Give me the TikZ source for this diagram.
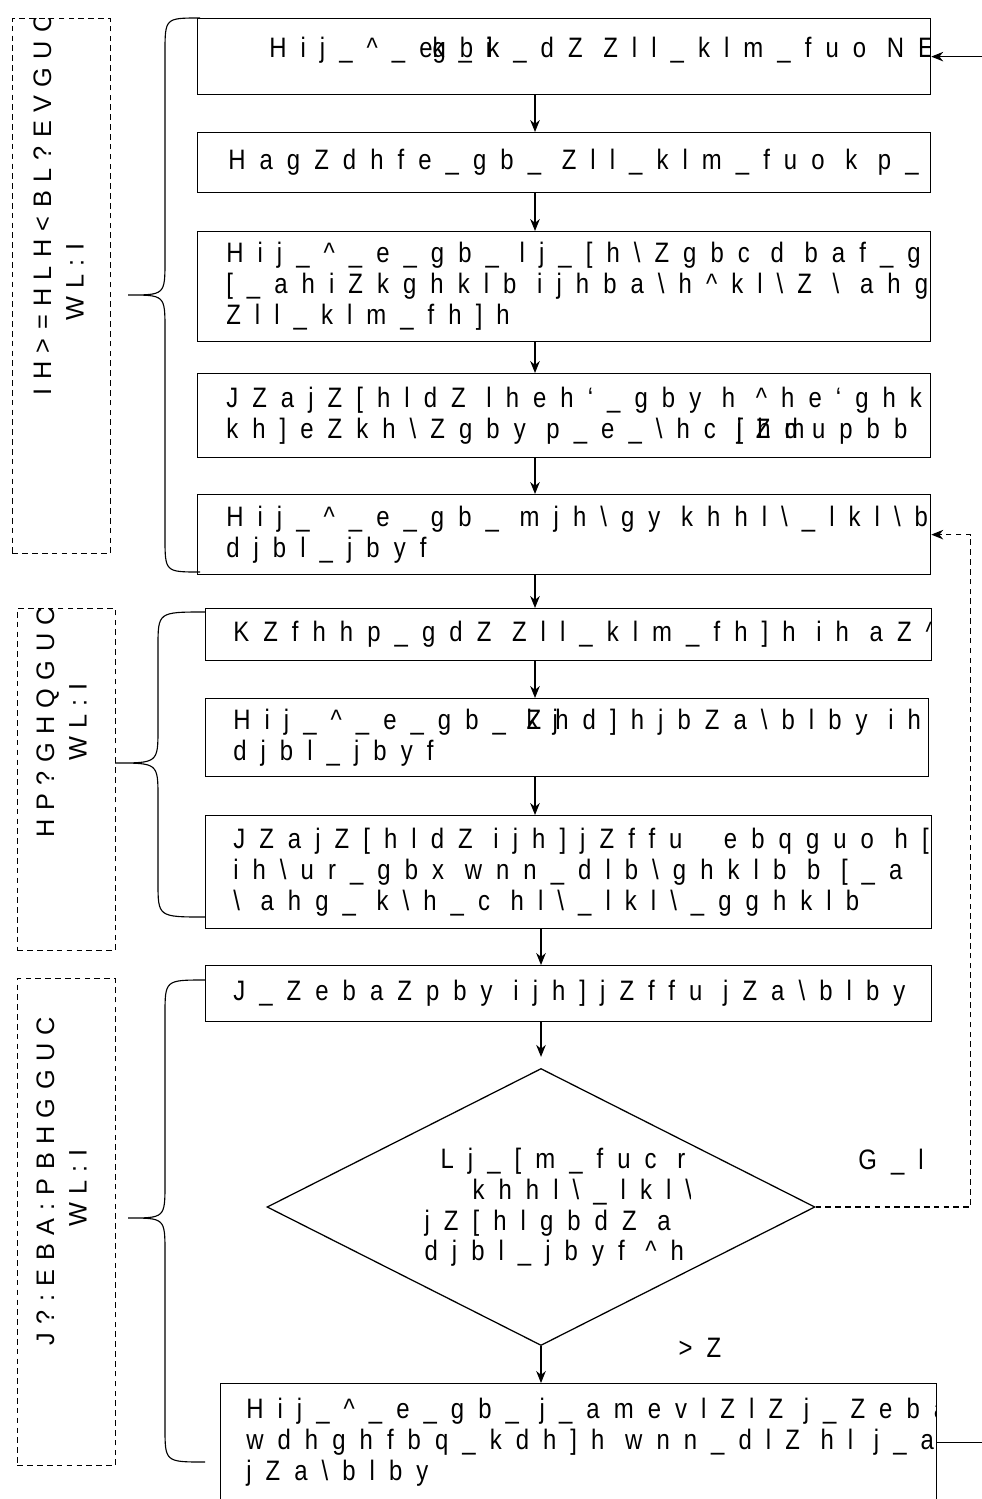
\documentclass[tikz,border=0pt]{standalone}
\usepackage{fontspec}
\usetikzlibrary{shapes.geometric,arrows.meta}
\newfontfamily\boxfont[LetterSpace=50,FakeStretch=0.85]{Liberation Sans}
\newfontfamily\grpfont[LetterSpace=33]{Liberation Sans}
\newcommand\crt{\textasciicircum}
\newcommand\bsl{\textbackslash}

\tikzset{
  wh/.style 2 args={minimum width=#1*0.025cm, minimum height=#2*0.025cm},
  stepbox/.style={draw, line width=0.9pt, rectangle, inner sep=0pt, anchor=north west},
  grpbox/.style={draw, dash pattern=on 4pt off 3pt, line width=0.7pt, rectangle, inner sep=0pt, anchor=north west},
  txt/.style={font=\boxfont\fontsize{20pt}{22pt}\selectfont, align=left, inner sep=0pt, minimum width=0pt, minimum height=0pt, draw=none},
  gtxt/.style={font=\grpfont\fontsize{18pt}{23pt}\selectfont, align=left, inner sep=0pt, minimum width=0pt, minimum height=0pt, draw=none},
  boxtext/.style 2 args={path picture={\node[txt, anchor=west] at ([shift={(#1)}]path picture bounding box.west) {#2};}},
  grptext/.style 2 args={path picture={\node[gtxt, rotate=90, anchor=west] at ([shift={(#1)}]path picture bounding box.south) {#2};}},
  arr/.style={-{Stealth[length=3mm,width=2.4mm]}, line width=0.8pt},
  brace/.style={line width=0.8pt},
}

\begin{document}
\begin{tikzpicture}[x=0.025cm,y=-0.025cm]
  \useasboundingbox (0,0) rectangle (981,1499);

  % stages on the left
  \node[grpbox, wh={98}{535}, grptext={-3,-158}{IH>=HLH<BL?EVGUC\\\hspace*{1.85cm}WL:I}] (g1) at (12,18) {};
  \node[grpbox, wh={98}{342}, grptext={-5,-113}{HP?GHQGUC\\\hspace*{1.9cm}WL:I}] (g2) at (17,608) {};
  \node[grpbox, wh={98}{487}, grptext={-5,-120}{J?:EBA:PBHGGUC\\\hspace*{2.95cm}WL:I}] (g3) at (17,978) {};

  % steps
  \node[stepbox, wh={733}{76}, boxtext={71,-6}{Hij\_\crt\_e\rlap{k\_i}gbk\_dZ Zll\_klm\_fuo NE}] (b1) at (197,18) {};
  \node[stepbox, wh={733}{60}, boxtext={30,0}{HagZdhfe\_gb\_ Zll\_klm\_fuo k p\_}] (b2) at (197,132) {};
  \node[stepbox, wh={733}{110}, boxtext={28,0}{Hij\_\crt\_e\_gb\_ lj\_[h\bsl{}Zgbc d baf\_g\\{}[\_ahiZkghklb ijhba\bsl{}h\crt{}kl\bsl{}Z \bsl{} ahg\\Zll\_klm\_fh]h}] (b3) at (197,231) {};
  \node[stepbox, wh={733}{84}, boxtext={28,0}{JZajZ[hldZ lheh‘\_gby h \crt{}he‘ghkl\\kh]eZkh\bsl{}Zgby p\_e\_\bsl{}hc \rlap{jZm}[hdupbb}] (b4) at (197,373) {};
  \node[stepbox, wh={733}{80}, boxtext={28,0}{Hij\_\crt\_e\_gb\_ mjh\bsl{}gy khhl\bsl\_lkl\bsl{}b\\djbl\_jbyf}] (b5) at (197,494) {};
  \node[stepbox, wh={726}{52}, boxtext={27,0}{KZfhhp\_gdZ Zll\_klm\_fh]h ih aZ\crt}] (b6) at (205,608) {};
  \node[stepbox, wh={723}{78}, boxtext={27,0}{Hij\_\crt\_e\_gb\_ \rlap{kj}Zhd]hjbZa\bsl{}blby ih\\djbl\_jbyf}] (b7) at (205,698) {};
  \node[stepbox, wh={726}{113}, boxtext={27,0}{JZajZ[hldZ ijh]jZffu\ \ ebqguo h[\\ih\bsl{}ur\_gbx wnn\_dlb\bsl{}ghklb b [\_a\\\bsl{} ahg\_ k\bsl{}h\_c hl\bsl\_lkl\bsl\_gghklb}] (b8) at (205,815) {};
  \node[stepbox, wh={726}{56}, boxtext={27,0}{J\_ZebaZpby ijh]jZffu jZa\bsl{}blby}] (b9) at (205,965) {};
  \node[draw, diamond, line width=0.9pt, inner sep=0pt, wh={548}{277}] (dia) at (541,1207) {};
  \node[rectangle, inner sep=0pt, anchor=north west, wh={290}{134}, boxtext={24,0}{\hspace*{0.4cm}Lj\_[m\_fuc r\\\hspace*{1.2cm}khhl\bsl\_lkl\bsl\\jZ[hlgbdZ\ a\\djbl\_jbyf \crt{}h}] (dtext) at (400,1140) {};
  \node[stepbox, wh={716}{118}, boxtext={25,0}{Hij\_\crt\_e\_gb\_ j\_amevlZlZ j\_Zeba\\wdhghfbq\_kdh]h wnn\_dlZ hl j\_a\\jZa\bsl{}blby}] (b10) at (220,1383) {};

  \node[txt] (no) at (891,1162) {G\_l};
  \node[txt] (yes) at (700,1348) {>Z};

  \coordinate (spineA) at (535,0);
  \coordinate (spineB) at (541,0);

  \begin{scope}[every edge/.style={draw=black, line width=0.8pt}]
    \path[arr] (b1.south -| spineA) edge (b2.north -| spineA);
    \path[arr] (b2.south -| spineA) edge (b3.north -| spineA);
    \path[arr] (b3.south -| spineA) edge (b4.north -| spineA);
    \path[arr] (b4.south -| spineA) edge (b5.north -| spineA);
    \path[arr] (b5.south -| spineA) edge (b6.north -| spineA);
    \path[arr] (b6.south -| spineA) edge (b7.north -| spineA);
    \path[arr] (b7.south -| spineA) edge (b8.north -| spineA);
    \path[arr] (b8.south -| spineB) edge (b9.north -| spineB);
    \path[arr] (b9.south -| spineB) edge[shorten >=0.275cm] (dia.north);
    \path[arr] (dia.south) edge (b10.north -| spineB);
  \end{scope}

  % back loops
  \draw[arr] (b10.east) -- ++(70,0) |- (b1.east);
  \draw[arr, dash pattern=on 4pt off 3pt] (dia.east) -- ++(155,0) |- (b5.east);

  % braces
  \draw[brace] (200,18) .. controls (165,18) .. (165,53) -- (165,260) .. controls (165,295) .. (128,295)
    .. controls (165,295) .. (165,330) -- (165,537) .. controls (165,572) .. (200,572);
  \draw[brace] (205,612) .. controls (158,612) .. (158,647) -- (158,728) .. controls (158,763) .. (115,763)
    .. controls (158,763) .. (158,798) -- (158,882) .. controls (158,917) .. (205,917);
  \draw[brace] (205,980) .. controls (165,980) .. (165,1015) -- (165,1183) .. controls (165,1218) .. (128,1218)
    .. controls (165,1218) .. (165,1253) -- (165,1427) .. controls (165,1462) .. (205,1462);
\end{tikzpicture}
\end{document}
